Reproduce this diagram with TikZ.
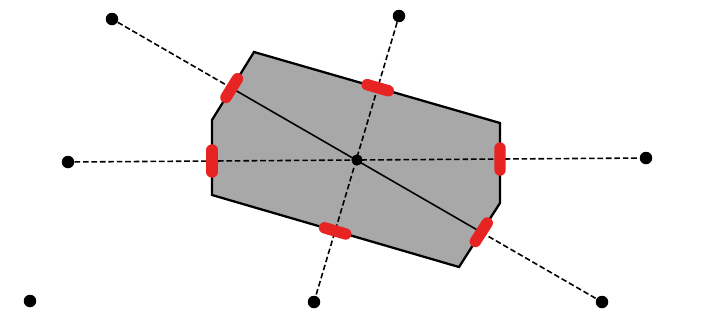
\documentclass[tikz,border=0pt]{standalone}
\usepackage{xcolor}
\usetikzlibrary{calc,intersections}
\definecolor{hitred}{RGB}{232,35,35}

\begin{document}
\begin{tikzpicture}[x=0.02cm, y=-0.02cm,
  site/.style={circle, fill=black, inner sep=0pt, minimum size=2.5mm},
  cen/.style={circle, fill=black, inner sep=0pt, minimum size=2.2mm},
  ray/.style={dash pattern=on 3.2pt off 1.6pt, line width=0.9pt},
  cell/.style={line width=1.3pt, line join=miter},
  hit/.style={hitred, line width=6.5pt, line cap=round}]
  \useasboundingbox (0,0) rectangle (706,322);
  % cell outline
  \path (254,52) coordinate (p1) (500,123) coordinate (p2) (500,203) coordinate (p3)
        (459,267) coordinate (p4) (212,195) coordinate (p5) (212,120) coordinate (p6);
  \fill[gray!68, name path=cell] (p1) -- (p2) -- (p3) -- (p4) -- (p5) -- (p6) -- cycle;
  % sites
  \foreach \n/\x/\y in {nw/112/19, n/399/16, w/68/162, e/646/158, sw/30/301, s/314/302, se/602/302}
    \node[site] (\n) at (\x,\y) {};
  \node[cen] (o) at (357,160) {};
  % bisector rays and where they cut the cell
  \path[name path=d1] (nw) -- (se);
  \path[name path=d2] (n) -- (s);
  \path[name path=d3] (w) -- (e);
  \path[name intersections={of=d1 and cell, sort by=d1, name=a}];
  \path[name intersections={of=d2 and cell, sort by=d2, name=b}];
  \path[name intersections={of=d3 and cell, sort by=d3, name=c}];
  \draw[ray] (nw) -- (a-1);
  \draw[line width=0.9pt] (a-1) -- (a-2);
  \draw[ray] (a-2) -- (se);
  \draw[ray] (n) -- (s);
  \draw[ray] (w) -- (e);
  \draw[cell] (p1) -- (p2) -- (p3) -- (p4) -- (p5) -- (p6) -- cycle;
  % red marks on the edges
  \foreach \h/\u/\v in {a-1/p6/p1, a-2/p3/p4, b-1/p1/p2, b-2/p4/p5, c-1/p5/p6, c-2/p2/p3}
    \draw[hit] ($(\h)!0.22cm!(\u)$) -- ($(\h)!0.22cm!(\v)$);
  \node[cen] at (o) {};
\end{tikzpicture}
\end{document}
